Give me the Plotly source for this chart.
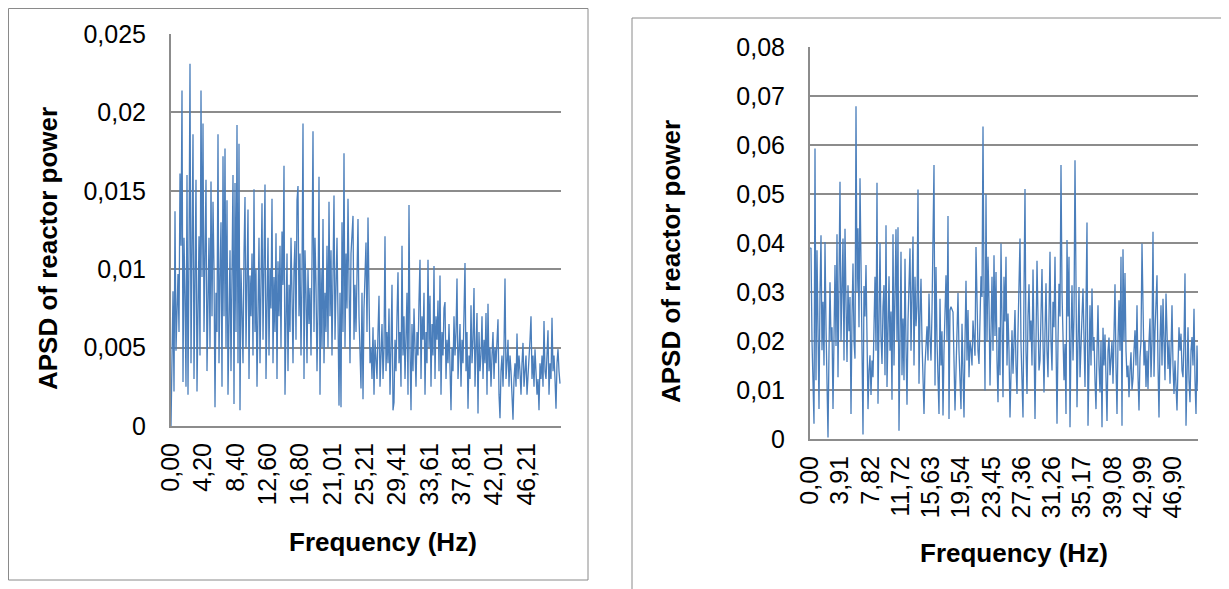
import plotly.graph_objects as go

# ---------------- data ----------------
# APSD values, in units of 1e-4 (left: power spectrum chart 1, right: chart 2)
apsd_left_e4 = [
    0, 58, 86, 22, 137, 48, 85, 97, 60, 161, 115, 214, 28, 120, 83, 25, 160, 20, 110, 231,
    40, 95, 186, 30, 115, 157, 22, 80, 121, 45, 214, 95, 193, 60, 110, 157, 35, 90, 120, 50,
    156, 70, 143, 100, 12, 85, 60, 186, 40, 95, 130, 25, 172, 70, 177, 50, 144, 20, 88, 112,
    35, 95, 160, 14, 155, 60, 192, 40, 180, 10, 100, 72, 40, 110, 146, 50, 90, 138, 30, 96,
    70, 110, 45, 151, 60, 100, 25, 80, 120, 40, 95, 142, 55, 105, 154, 30, 85, 120, 45, 100,
    75, 145, 40, 95, 60, 123, 30, 105, 70, 115, 50, 124, 90, 166, 20, 75, 110, 35, 90, 60,
    120, 85, 40, 100, 118, 55, 144, 153, 70, 110, 45, 95, 193, 30, 112, 85, 40, 100, 65, 88,
    45, 105, 188, 60, 120, 90, 35, 75, 159, 20, 100, 50, 132, 40, 85, 60, 115, 50, 143, 70,
    112, 45, 95, 147, 55, 80, 120, 70, 13, 85, 12, 130, 60, 174, 50, 110, 75, 145, 90, 40,
    110, 128, 134, 55, 90, 60, 100, 132, 70, 50, 24, 85, 17, 75, 100, 117, 60, 133, 85, 40,
    50, 30, 63, 20, 55, 45, 30, 60, 83, 25, 45, 65, 30, 50, 121, 35, 60, 40, 75, 20,
    50, 90, 10, 15, 55, 35, 70, 98, 40, 60, 25, 115, 45, 70, 30, 55, 85, 20, 141, 50,
    10, 65, 35, 75, 50, 25, 60, 45, 80, 106, 30, 70, 55, 85, 20, 60, 40, 106, 50, 83,
    25, 65, 45, 102, 30, 70, 55, 80, 35, 96, 20, 60, 45, 75, 79, 30, 55, 40, 65, 25,
    10, 50, 35, 70, 45, 60, 94, 30, 50, 65, 25, 55, 40, 70, 104, 35, 60, 11, 45, 30,
    77, 40, 55, 88, 25, 50, 72, 8, 60, 35, 45, 70, 30, 55, 40, 72, 20, 78, 35, 50,
    25, 45, 60, 30, 50, 40, 55, 68, 20, 5, 35, 45, 25, 50, 94, 30, 40, 55, 25, 45,
    35, 20, 4, 30, 40, 25, 59, 30, 45, 35, 20, 40, 53, 25, 35, 45, 20, 30, 40, 55,
    70, 30, 45, 25, 49, 35, 20, 30, 10, 40, 30, 45, 25, 67, 35, 30, 45, 61, 20, 40,
    30, 69, 35, 45, 30, 11, 40, 49, 35, 27,
]

apsd_right_e4 = [
    390, 389, 200, 133, 31, 593, 120, 385, 250, 61, 300, 416, 181, 280, 150, 402, 230, 68, 3, 180,
    320, 200, 228, 61, 270, 355, 190, 418, 126, 300, 525, 200, 330, 409, 160, 429, 280, 157, 314, 220,
    290, 51, 250, 358, 200, 164, 679, 300, 430, 228, 532, 330, 150, 9, 312, 250, 355, 200, 61, 140,
    171, 90, 160, 126, 250, 331, 180, 523, 72, 260, 400, 210, 153, 270, 314, 130, 436, 106, 240, 332,
    180, 260, 80, 418, 150, 300, 428, 200, 432, 17, 220, 382, 130, 246, 120, 368, 190, 70, 240, 320,
    389, 180, 280, 413, 150, 331, 230, 270, 509, 113, 250, 327, 200, 92, 51, 150, 184, 230, 160, 297,
    210, 160, 260, 471, 559, 109, 351, 200, 106, 51, 286, 150, 220, 48, 180, 260, 334, 200, 455, 41,
    263, 270, 265, 259, 160, 58, 140, 222, 298, 180, 130, 61, 235, 140, 44, 200, 323, 160, 263, 126,
    200, 184, 150, 242, 210, 170, 392, 235, 180, 153, 250, 332, 290, 638, 300, 99, 500, 200, 372, 280,
    109, 250, 331, 180, 375, 210, 341, 160, 75, 228, 130, 399, 200, 85, 331, 240, 372, 150, 256, 180,
    44, 160, 222, 133, 200, 263, 150, 92, 220, 300, 409, 194, 120, 44, 300, 510, 180, 92, 250, 316,
    200, 242, 150, 346, 210, 41, 200, 364, 250, 140, 160, 280, 347, 200, 95, 220, 318, 180, 126, 250,
    382, 200, 140, 280, 228, 372, 150, 31, 200, 317, 250, 559, 300, 215, 120, 194, 51, 406, 250, 372,
    24, 200, 314, 160, 250, 569, 300, 65, 200, 310, 126, 220, 250, 307, 180, 106, 270, 442, 27, 200,
    273, 150, 307, 180, 208, 120, 61, 180, 273, 150, 95, 200, 24, 227, 150, 213, 120, 37, 180, 207,
    130, 162, 200, 113, 200, 316, 150, 51, 200, 283, 180, 372, 27, 387, 200, 339, 180, 126, 150, 85,
    140, 177, 100, 123, 180, 222, 150, 273, 130, 58, 167, 200, 399, 283, 150, 200, 106, 180, 102, 200,
    246, 126, 200, 423, 127, 220, 283, 334, 150, 44, 200, 273, 150, 286, 200, 120, 297, 180, 143, 200,
    113, 180, 273, 150, 92, 160, 120, 58, 150, 228, 180, 215, 140, 126, 200, 338, 27, 150, 228, 120,
    75, 180, 208, 150, 266, 120, 51, 191, 99,
]

# frequency resolution of each spectrum (Hz per sample)
DF_LEFT = 0.1300
DF_RIGHT = 0.1292

left_tick_labels = ["0,00", "4,20", "8,40", "12,60", "16,80", "21,01", "25,21",
                    "29,41", "33,61", "37,81", "42,01", "46,21"]
right_tick_labels = ["0,00", "3,91", "7,82", "11,72", "15,63", "19,54", "23,45",
                     "27,36", "31,26", "35,17", "39,08", "42,99", "46,90"]
left_y_ticks = [0, 0.005, 0.01, 0.015, 0.02, 0.025]
left_y_text = ["0", "0,005", "0,01", "0,015", "0,02", "0,025"]
right_y_ticks = [0, 0.01, 0.02, 0.03, 0.04, 0.05, 0.06, 0.07, 0.08]
right_y_text = ["0", "0,01", "0,02", "0,03", "0,04", "0,05", "0,06", "0,07", "0,08"]

x_title = "Frequency (Hz)"
y_title = "APSD of reactor power"

# ---------------- build ----------------
apsd_left = [v * 1e-4 for v in apsd_left_e4]
apsd_right = [v * 1e-4 for v in apsd_right_e4]
freq_left = [i * DF_LEFT for i in range(len(apsd_left))]
freq_right = [i * DF_RIGHT for i in range(len(apsd_right))]

W, H = 1229, 589
OFF = 8  # the page body places the figure 8 px from the window corner
FONT = "Liberation Sans, Arial, Helvetica, sans-serif"
LINE = "#4a7ebb"
GRID = "#8c8c8c"


def px(x):
    return (x - OFF) / W


def py(y):
    return 1 - (y - OFF) / H


fig = go.Figure()
fig.add_trace(go.Scatter(x=freq_left, y=apsd_left, mode="lines",
                         line=dict(color=LINE, width=1.3), xaxis="x", yaxis="y",
                         showlegend=False, hoverinfo="skip"))
fig.add_trace(go.Scatter(x=freq_right, y=apsd_right, mode="lines",
                         line=dict(color=LINE, width=1.3), xaxis="x2", yaxis="y2",
                         showlegend=False, hoverinfo="skip"))

tickfont = dict(family=FONT, size=25, color="black")


def xaxis(domain, labels, rng, anchor):
    return dict(domain=domain, range=rng, anchor=anchor,
                tickvals=[float(t.replace(",", ".")) for t in labels],
                ticktext=labels, tickangle=-90, tickfont=tickfont,
                showgrid=False, zeroline=False, showline=True, automargin=False,
                linecolor=GRID, linewidth=2, ticks="", ticklabelstandoff=5)


def yaxis(domain, vals, text, rng, anchor):
    return dict(domain=domain, range=rng, anchor=anchor,
                tickvals=vals, ticktext=text, tickfont=tickfont, automargin=False,
                showgrid=True, gridcolor=GRID, gridwidth=2, zeroline=False,
                showline=True, linecolor=GRID, linewidth=2, ticks="",
                ticklabelstandoff=18)


annotations = [
    dict(text="<b>%s</b>" % y_title, x=px(48), y=py(249), xref="paper", yref="paper",
         textangle=-90, showarrow=False, font=dict(family=FONT, size=26, color="black"),
         xanchor="center", yanchor="middle"),
    dict(text="<b>%s</b>" % x_title, x=px(383), y=py(542), xref="paper", yref="paper",
         showarrow=False, font=dict(family=FONT, size=26, color="black"),
         xanchor="center", yanchor="middle"),
    dict(text="<b>%s</b>" % y_title, x=px(671), y=py(262), xref="paper", yref="paper",
         textangle=-90, showarrow=False, font=dict(family=FONT, size=26, color="black"),
         xanchor="center", yanchor="middle"),
    dict(text="<b>%s</b>" % x_title, x=px(1014), y=py(553), xref="paper", yref="paper",
         showarrow=False, font=dict(family=FONT, size=26, color="black"),
         xanchor="center", yanchor="middle"),
]

shapes = [
    dict(type="rect", xref="paper", yref="paper", x0=px(8.5), x1=px(588), y0=py(580), y1=py(8.5),
         line=dict(color="#8a8a8a", width=1), fillcolor="rgba(0,0,0,0)", layer="below"),
    dict(type="rect", xref="paper", yref="paper", x0=px(632), x1=px(1240), y0=py(600), y1=py(18),
         line=dict(color="#8a8a8a", width=1), fillcolor="rgba(0,0,0,0)", layer="below"),
]

fig.update_layout(
    width=W, height=H,
    margin=dict(l=0, r=0, t=0, b=0, pad=0, autoexpand=False),
    paper_bgcolor="white", plot_bgcolor="white",
    xaxis=xaxis([px(171), px(561)], left_tick_labels, [0, 50.7], "y"),
    yaxis=yaxis([py(426), py(34)], left_y_ticks, left_y_text, [0, 0.025], "x"),
    xaxis2=xaxis([px(810), px(1198)], right_tick_labels, [0, 50.13], "y2"),
    yaxis2=yaxis([py(439), py(47)], right_y_ticks, right_y_text, [0, 0.08], "x2"),
    annotations=annotations,
    shapes=shapes,
    showlegend=False,
)

fig.write_html("out.html", config={"displayModeBar": False})
